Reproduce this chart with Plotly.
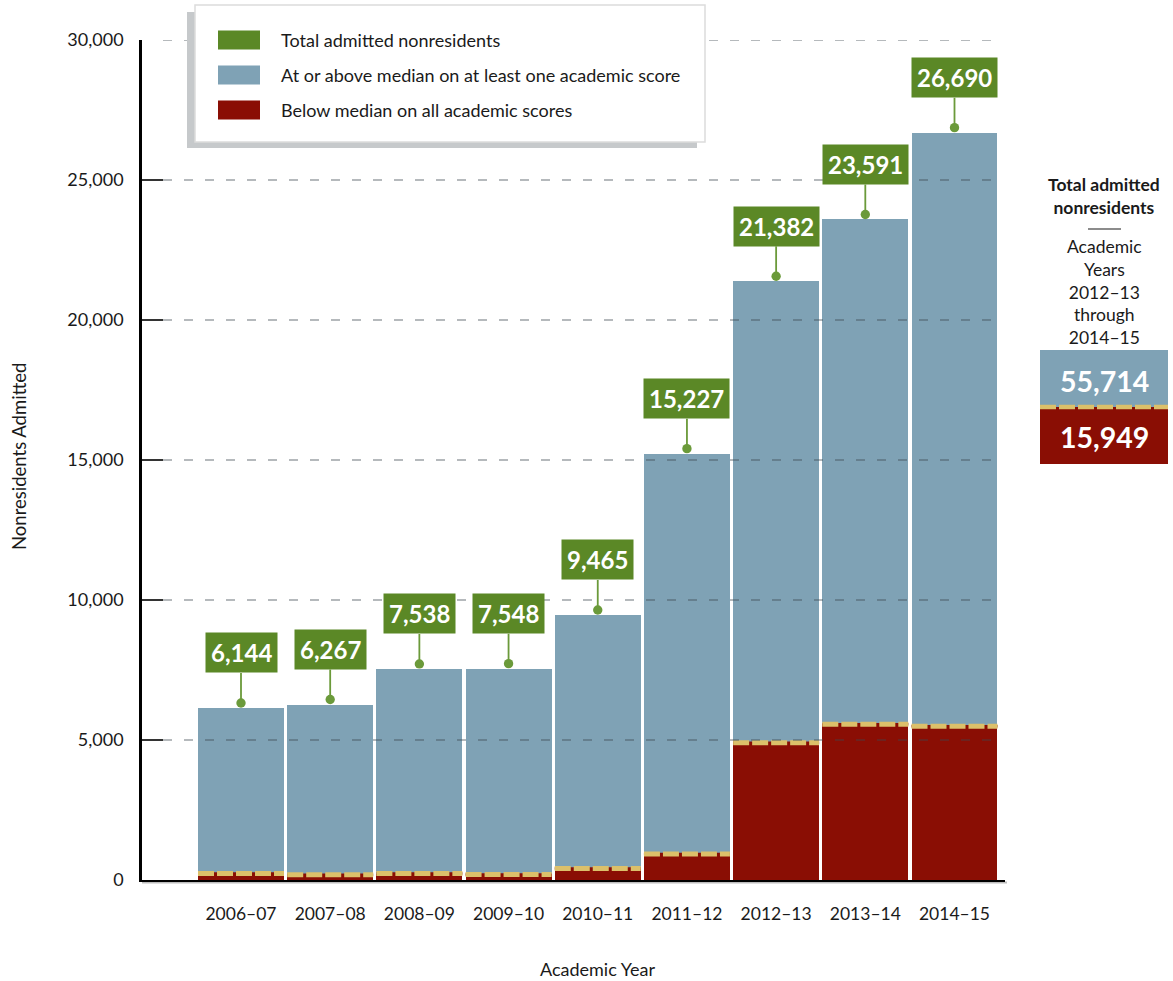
import plotly.graph_objects as go

# ---------------- data ----------------
years = ["2006\u201307", "2007\u201308", "2008\u201309", "2009\u201310", "2010\u201311",
         "2011\u201312", "2012\u201313", "2013\u201314", "2014\u201315"]
total_admitted = [6144, 6267, 7538, 7548, 9465, 15227, 21382, 23591, 26690]
below_median = [232, 190, 232, 200, 410, 930, 4900, 5560, 5489]
above_median = [t - b for t, b in zip(total_admitted, below_median)]
y_ticks = [0, 5000, 10000, 15000, 20000, 25000, 30000]
summary_years = ["2012\u201313", "2013\u201314", "2014\u201315"]

legend_labels = ["Total admitted nonresidents",
                 "At or above median on at least one academic score",
                 "Below median on all academic scores"]

# ---------------- style ----------------
GREEN = "#5b8826"
BLUE = "#7fa2b5"
RED = "#8a0e04"
YELLOW = "#dcc06a"
FONT = "Lato"
TXT = "#1a1a1a"

W, H = 1173, 981
L, R, T, B = 142, 1005, 40, 880
PW, PH = R - L, B - T
UNIT = 89.19
BW = 0.964


def px_x(p):
    return (p - L) / PW


def px_y(p):
    return (B - p) / PH


idx = list(range(len(years)))

fig = go.Figure()
fig.add_trace(go.Bar(x=idx, y=below_median, marker=dict(color=RED, line=dict(width=0)),
                     name=legend_labels[2], hoverinfo="y"))
fig.add_trace(go.Bar(x=idx, y=above_median, marker=dict(color=BLUE, line=dict(width=0)),
                     name=legend_labels[1], hoverinfo="y"))

# boundary stripe (dashed yellow on red)
sx, sy = [], []
for i, b in zip(idx, below_median):
    sx += [i - BW / 2, i + BW / 2, None]
    sy += [b, b, None]
fig.add_trace(go.Scatter(x=sx, y=sy, mode="lines", line=dict(color=RED, width=2.5),
                         hoverinfo="skip"))
fig.add_trace(go.Scatter(x=sx, y=sy, mode="lines",
                         line=dict(color=YELLOW, width=5, dash="16px,3px"),
                         hoverinfo="skip"))

shapes = []
# dashed gridlines above traces
for v in y_ticks[1:]:
    shapes.append(dict(type="line", xref="paper", yref="y", x0=px_x(163), x1=px_x(1003),
                       y0=v, y1=v, layer="above",
                       line=dict(color="rgba(60,70,80,0.38)", width=2, dash="9px,12px")))
# x-axis shadow
shapes.append(dict(type="line", xref="paper", yref="paper", x0=0, x1=px_x(1007),
                   y0=px_y(882.5), y1=px_y(882.5), layer="below",
                   line=dict(color="#bdbdbd", width=2)))

# legend box with shadow
shapes.append(dict(type="rect", xref="paper", yref="paper", x0=px_x(187), x1=px_x(697),
                   y0=px_y(148), y1=px_y(12), layer="above", fillcolor="#c6c9cb",
                   line=dict(width=0)))
shapes.append(dict(type="rect", xref="paper", yref="paper", x0=px_x(195), x1=px_x(705),
                   y0=px_y(142), y1=px_y(5), layer="above", fillcolor="white",
                   line=dict(color="#dcdcdc", width=1.5)))
sw_colors = [GREEN, BLUE, RED]
sw_y = [40, 75, 110]
annotations = []
for c, yy, lab in zip(sw_colors, sw_y, legend_labels):
    shapes.append(dict(type="rect", xref="paper", yref="paper", x0=px_x(218), x1=px_x(260),
                       y0=px_y(yy + 9.5), y1=px_y(yy - 9.5), layer="above", fillcolor=c,
                       line=dict(width=0)))
    annotations.append(dict(xref="paper", yref="paper", x=px_x(279), y=px_y(yy),
                            xanchor="left", yanchor="middle", showarrow=False, text=lab,
                            font=dict(family=FONT, size=18, color=TXT)))

# total labels
for i, t in zip(idx, total_admitted):
    annotations.append(dict(x=i, y=t, xref="x", yref="y", text=f"<b>{t:,}</b>",
                            showarrow=True, ax=0, ay=-55, arrowhead=6, arrowsize=1.3,
                            arrowwidth=1.8, arrowcolor="#6b9a3a", standoff=5,
                            bgcolor=GREEN, borderpad=5,
                            font=dict(family=FONT, size=24, color="white")))

# axis titles
annotations.append(dict(xref="x", yref="paper", x=(idx[0] + idx[-1]) / 2, y=px_y(969),
                        text="Academic Year", showarrow=False, yanchor="middle",
                        font=dict(family=FONT, size=18, color=TXT)))
annotations.append(dict(xref="paper", yref="paper", x=px_x(19), y=px_y(457),
                        text="Nonresidents Admitted", showarrow=False, textangle=-90,
                        xanchor="center", yanchor="middle",
                        font=dict(family=FONT, size=18.5, color=TXT)))

# right-hand summary panel
sum_below = sum(b for y, b in zip(years, below_median) if y in summary_years)
sum_above = sum(a for y, a in zip(years, above_median) if y in summary_years)
cx = px_x(1104)
annotations.append(dict(xref="paper", yref="paper", x=cx, y=px_y(196),
                        text="<b>Total admitted<br>nonresidents</b>", showarrow=False,
                        xanchor="center", yanchor="middle",
                        font=dict(family=FONT, size=17.5, color=TXT)))
annotations.append(dict(xref="paper", yref="paper", x=cx, y=px_y(292),
                        text="Academic<br>Years<br>" + summary_years[0] + "<br>through<br>"
                             + summary_years[-1],
                        showarrow=False, xanchor="center", yanchor="middle",
                        font=dict(family=FONT, size=17.5, color=TXT)))
shapes.append(dict(type="line", xref="paper", yref="paper", x0=px_x(1088), x1=px_x(1121),
                   y0=px_y(229), y1=px_y(229), line=dict(color=TXT, width=1.2)))
shapes.append(dict(type="rect", xref="paper", yref="paper", x0=px_x(1040), x1=px_x(1168),
                   y0=px_y(407), y1=px_y(350), fillcolor=BLUE, line=dict(width=0)))
shapes.append(dict(type="rect", xref="paper", yref="paper", x0=px_x(1040), x1=px_x(1168),
                   y0=px_y(464), y1=px_y(407), fillcolor=RED, line=dict(width=0)))
shapes.append(dict(type="line", xref="paper", yref="paper", x0=px_x(1040), x1=px_x(1168),
                   y0=px_y(407), y1=px_y(407),
                   line=dict(color=YELLOW, width=4.5, dash="16px,3px")))
annotations.append(dict(xref="paper", yref="paper", x=cx, y=px_y(381),
                        text=f"<b>{sum_above:,}</b>", showarrow=False,
                        xanchor="center", yanchor="middle",
                        font=dict(family=FONT, size=28.5, color="white")))
annotations.append(dict(xref="paper", yref="paper", x=cx, y=px_y(437),
                        text=f"<b>{sum_below:,}</b>", showarrow=False,
                        xanchor="center", yanchor="middle",
                        font=dict(family=FONT, size=28.5, color="white")))

fig.update_layout(
    width=W, height=H,
    margin=dict(l=L, r=W - R, t=T, b=H - B, pad=0),
    barmode="stack", bargap=1 - BW,
    showlegend=False,
    plot_bgcolor="white", paper_bgcolor="white",
    font=dict(family=FONT, size=18, color=TXT),
    shapes=shapes, annotations=annotations,
    xaxis=dict(range=[-(241 - L) / UNIT, idx[-1] + (R - 954.5) / UNIT],
               tickvals=idx, ticktext=years, ticks="", showgrid=False, zeroline=False,
               showline=True, linecolor="black", linewidth=2,
               ticklabelstandoff=17, tickfont=dict(family=FONT, size=17.5, color=TXT),
               fixedrange=True),
    yaxis=dict(range=[0, 30000], tickvals=y_ticks, tickformat=",", ticks="inside",
               ticklen=21, tickwidth=1.5, tickcolor="#333", showgrid=False, zeroline=False,
               showline=True, linecolor="black", linewidth=2.5,
               ticklabelstandoff=12, tickfont=dict(family=FONT, size=18, color=TXT),
               fixedrange=True),
)

fig.write_html("out.html", config={"displayModeBar": False},
               post_script="document.body.style.margin='0';")
